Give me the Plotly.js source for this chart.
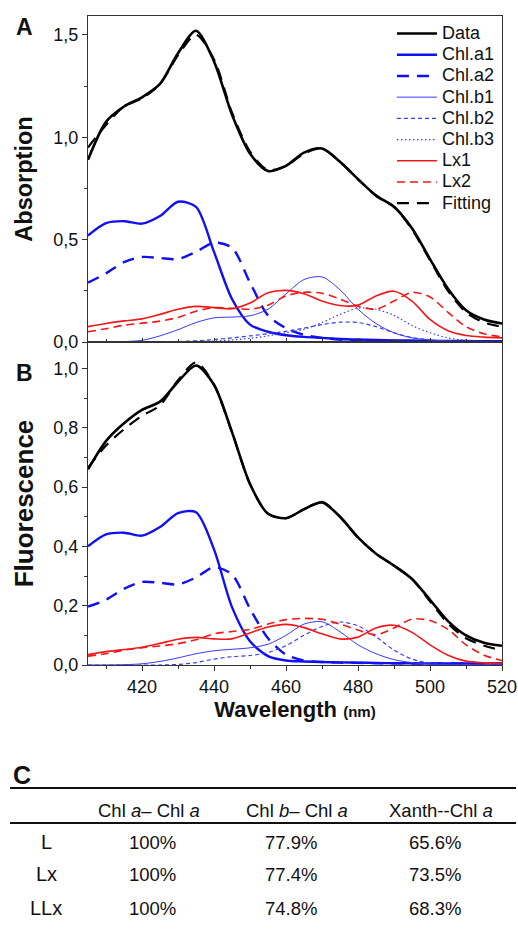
<!DOCTYPE html>
<html>
<head>
<meta charset="utf-8">
<script src="https://cdn.plot.ly/plotly-3.0.1.min.js"></script>
<style>
html,body{margin:0;padding:0;background:#fff;}
#chart{width:518px;height:929px;}
</style>
</head>
<body>
<div id="chart"></div>
<script>
// Wavelength grid (nm)
const wavelength = [405,410,415,420,425,430,435,440,445,450,455,460,465,470,475,480,485,490,495,500,505,510,515,520];

// Panel A: Absorption
const absData    = [0.89,1.075,1.15,1.195,1.26,1.41,1.52,1.37,1.11,0.92,0.835,0.86,0.925,0.945,0.88,0.795,0.715,0.66,0.555,0.405,0.26,0.155,0.11,0.09];
const absChla1   = [0.52,0.58,0.59,0.578,0.615,0.685,0.66,0.44,0.21,0.085,0.05,0.033,0.025,0.02,0.015,0.012,0.01,0.008,0.007,0.006,0.005,0.005,0.004,0.004];
const absChla2   = [0.29,0.335,0.39,0.415,0.41,0.405,0.44,0.485,0.46,0.29,0.13,0.068,0.035,0.02,0.012,0.008,0.006,0.005,0.004,0.004,0.004,0.004,0.004,0.004];
const absChlb1   = [0,0,0.002,0.008,0.03,0.06,0.095,0.118,0.122,0.128,0.16,0.235,0.305,0.318,0.255,0.16,0.09,0.045,0.02,0.01,0.005,0.003,0.002,0.001];
const absChlb2   = [0,0,0,0,0,0.002,0.006,0.012,0.02,0.03,0.04,0.052,0.068,0.085,0.097,0.095,0.075,0.045,0.022,0.01,0.004,0.002,0.001,0];
const absChlb3   = [0,0,0,0,0,0.001,0.003,0.005,0.01,0.018,0.03,0.045,0.062,0.095,0.135,0.165,0.16,0.13,0.08,0.045,0.02,0.008,0.003,0.001];
const absLx1     = [0.075,0.09,0.103,0.113,0.135,0.16,0.174,0.168,0.162,0.19,0.24,0.252,0.236,0.2,0.178,0.18,0.225,0.248,0.2,0.11,0.055,0.032,0.024,0.02];
const absLx2     = [0.05,0.065,0.082,0.092,0.102,0.12,0.15,0.168,0.165,0.16,0.18,0.225,0.243,0.238,0.21,0.175,0.16,0.2,0.242,0.22,0.145,0.075,0.04,0.025];
const absFitting = [0.95,1.06,1.15,1.19,1.26,1.40,1.50,1.38,1.12,0.93,0.84,0.86,0.92,0.945,0.88,0.795,0.715,0.66,0.55,0.40,0.25,0.145,0.095,0.075];

// Panel B: Fluorescence
const fluData    = [0.66,0.755,0.815,0.86,0.888,0.955,1.01,0.945,0.785,0.61,0.51,0.495,0.525,0.548,0.5,0.43,0.375,0.335,0.29,0.22,0.148,0.1,0.075,0.065];
const fluChla1   = [0.40,0.44,0.446,0.436,0.465,0.512,0.515,0.39,0.195,0.08,0.03,0.015,0.012,0.01,0.009,0.008,0.007,0.006,0.006,0.005,0.005,0.005,0.005,0.005];
const fluChla2   = [0.197,0.22,0.257,0.28,0.277,0.272,0.295,0.33,0.305,0.19,0.09,0.035,0.015,0.01,0.008,0.007,0.006,0.006,0.005,0.005,0.005,0.005,0.005,0.005];
const fluChlb1   = [0,0,0.001,0.004,0.012,0.024,0.038,0.048,0.053,0.058,0.07,0.1,0.138,0.146,0.112,0.068,0.038,0.018,0.008,0.003,0.001,0,0,0];
const fluChlb2   = [0,0,0,0,0,0.002,0.008,0.02,0.028,0.032,0.042,0.065,0.1,0.13,0.145,0.132,0.095,0.05,0.02,0.006,0.002,0,0,0];
const fluLx1     = [0.035,0.045,0.052,0.06,0.073,0.087,0.093,0.088,0.088,0.108,0.128,0.137,0.126,0.105,0.088,0.094,0.125,0.134,0.11,0.068,0.033,0.013,0.007,0.005];
const fluLx2     = [0.03,0.038,0.05,0.058,0.064,0.072,0.085,0.105,0.113,0.12,0.138,0.153,0.157,0.154,0.138,0.118,0.102,0.125,0.155,0.15,0.12,0.068,0.033,0.015];
const fluFitting = [0.665,0.74,0.795,0.84,0.875,0.96,1.02,0.945,0.785,0.61,0.51,0.495,0.525,0.55,0.5,0.43,0.375,0.335,0.29,0.215,0.14,0.09,0.065,0.05];

// Table C
const tableHeaders = ['Chl <i>a</i>– Chl <i>a</i>', 'Chl <i>b</i>– Chl <i>a</i>', 'Xanth--Chl <i>a</i>'];
const rowLabels    = ['L', 'Lx', 'LLx'];
const colChlaChla  = ['100%', '100%', '100%'];
const colChlbChla  = ['77.9%', '77.4%', '74.8%'];
const colXanthChla = ['65.6%', '73.5%', '68.3%'];

// ---- styles ----
const FONT = 'Liberation Sans, Arial, Helvetica, sans-serif';
const BLUE = '#1010f0';
const BLUE_T = '#3a3aff';
const RED = '#f01818';
const styles = {
  'Data':    {color:'#000', width:2.6, dash:'solid'},
  'Chl.a1':  {color:BLUE, width:2.4, dash:'solid'},
  'Chl.a2':  {color:BLUE, width:2.4, dash:'12px,8px'},
  'Chl.b1':  {color:BLUE_T, width:1, dash:'solid'},
  'Chl.b2':  {color:BLUE_T, width:1.2, dash:'4px,3px'},
  'Chl.b3':  {color:BLUE_T, width:1.2, dash:'1.5px,2.5px'},
  'Lx1':     {color:RED, width:1.6, dash:'solid'},
  'Lx2':     {color:RED, width:1.6, dash:'8px,5px'},
  'Fitting': {color:'#000', width:2.2, dash:'12px,8px'}
};

function tr(name, y, xa, ya, showlegend) {
  const s = styles[name];
  return {x: wavelength, y: y, type:'scatter', mode:'lines',
    name:'<span style="font-size:18px">' + name + '</span>',
    xaxis:xa, yaxis:ya, showlegend:showlegend, legendgroup:name,
    line:{color:s.color, width:s.width, dash:s.dash, shape:'spline', smoothing:0.8},
    hoverinfo:'skip'};
}

const traces = [
  tr('Data', absData, 'x', 'y', true),
  tr('Chl.a1', absChla1, 'x', 'y', true),
  tr('Chl.a2', absChla2, 'x', 'y', true),
  tr('Chl.b1', absChlb1, 'x', 'y', true),
  tr('Chl.b2', absChlb2, 'x', 'y', true),
  tr('Chl.b3', absChlb3, 'x', 'y', true),
  tr('Lx1', absLx1, 'x', 'y', true),
  tr('Lx2', absLx2, 'x', 'y', true),
  tr('Fitting', absFitting, 'x', 'y', true),
  tr('Data', fluData, 'x2', 'y2', false),
  tr('Chl.a1', fluChla1, 'x2', 'y2', false),
  tr('Chl.a2', fluChla2, 'x2', 'y2', false),
  tr('Chl.b1', fluChlb1, 'x2', 'y2', false),
  tr('Chl.b2', fluChlb2, 'x2', 'y2', false),
  tr('Lx1', fluLx1, 'x2', 'y2', false),
  tr('Lx2', fluLx2, 'x2', 'y2', false),
  tr('Fitting', fluFitting, 'x2', 'y2', false)
];

// page geometry
const W = 518, H = 929, ML = 88, MR = 16, MT = 16, MB = 264;
const PW = W - ML - MR, PH = H - MT - MB;
const splitPx = 342;
const splitDom = (H - MB - splitPx) / PH;
const px2x = px => (px - ML) / PW;
const py2y = py => (H - MB - py) / PH;

const axisCommon = {showline:true, mirror:true, linecolor:'#333', linewidth:1.2, zeroline:false, showgrid:false,
  tickfont:{family:FONT, size:18, color:'#111'}, tickcolor:'#333'};

const layout = {
  width:W, height:H, margin:{l:ML, r:MR, t:MT, b:MB},
  paper_bgcolor:'#fff', plot_bgcolor:'#fff',
  separators:',.',
  font:{family:FONT, color:'#111'},
  showlegend:true,
  legend:{x:0.995, xanchor:'right', y:0.997, yanchor:'top', bgcolor:'rgba(0,0,0,0)', borderwidth:0,
    font:{family:FONT, size:14, color:'#111'}, itemwidth:40, tracegroupgap:0, traceorder:'normal'},
  xaxis:Object.assign({}, axisCommon, {domain:[0,1], anchor:'y', range:[405,520], showticklabels:false,
    ticks:'inside', ticklen:4, dtick:20, tick0:0, minor:{dtick:10, ticks:'inside', ticklen:3, tickcolor:'#333'}}),
  yaxis:Object.assign({}, axisCommon, {domain:[splitDom,1], anchor:'x', range:[0,1.592],
    ticks:'outside', ticklen:5, dtick:0.5, tick0:0, tickformat:'.1f',
    minor:{dtick:0.25, ticks:'outside', ticklen:3, tickcolor:'#333'},
    title:{text:'<b>Absorption</b>', font:{family:FONT, size:23.5, color:'#111'}, standoff:14}}),
  xaxis2:Object.assign({}, axisCommon, {domain:[0,1], anchor:'y2', range:[405,520],
    ticks:'outside', ticklen:5, dtick:20, tick0:0, minor:{dtick:10, ticks:'outside', ticklen:3, tickcolor:'#333'},
    title:{text:'<b>Wavelength</b> <b><span style="font-size:15px">(nm)</span></b>', font:{family:FONT, size:22, color:'#111'}, standoff:5}}),
  yaxis2:Object.assign({}, axisCommon, {domain:[0,splitDom], anchor:'x2', range:[0,1.089],
    ticks:'outside', ticklen:5, dtick:0.2, tick0:0, tickformat:'.1f',
    minor:{dtick:0.1, ticks:'outside', ticklen:3, tickcolor:'#333'},
    title:{text:'<b>Fluorescence</b>', font:{family:FONT, size:26, color:'#111'}, standoff:12}}),
  annotations:[],
  shapes:[]
};

function ann(text, cx, cy, size, bold) {
  layout.annotations.push({text: bold ? '<b>'+text+'</b>' : text, xref:'paper', yref:'paper',
    x:px2x(cx), y:py2y(cy), xanchor:'center', yanchor:'middle', showarrow:false,
    font:{family:FONT, size:size, color:'#111'}});
}

// panel letters
ann('A', 25, 27, 23, true);
ann('B', 24, 373, 23, true);
ann('C', 22, 775, 25, true);

// table rules
[[788, 2.2], [823, 1.8]].forEach(([py, w]) => {
  layout.shapes.push({type:'line', xref:'paper', yref:'paper', x0:px2x(10), x1:px2x(516), y0:py2y(py), y1:py2y(py),
    line:{color:'#111', width:w}});
});

// table content
const colCenters = [149, 297, 441];
const valCenters = [152, 291, 435];
const rowY = [842, 874, 908];
tableHeaders.forEach((h, i) => ann(h, colCenters[i], 810, 18.5, false));
rowLabels.forEach((r, i) => {
  ann(r, 46, rowY[i], 20, false);
  ann(colChlaChla[i], valCenters[0], rowY[i], 18.5, false);
  ann(colChlbChla[i], valCenters[1], rowY[i], 18.5, false);
  ann(colXanthChla[i], valCenters[2], rowY[i], 18.5, false);
});

Plotly.newPlot('chart', traces, layout, {staticPlot:true, displayModeBar:false});
</script>
</body>
</html>
